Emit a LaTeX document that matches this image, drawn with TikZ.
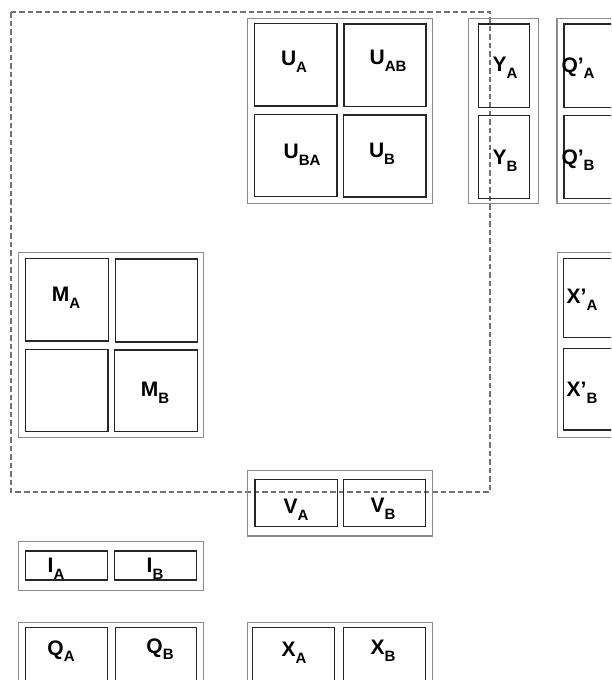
\documentclass[tikz,border=0pt]{standalone}
\usepackage{fontspec}
\setmainfont{Liberation Sans}
\begin{document}
\begin{tikzpicture}[x=1pt,y=-1pt,
  outerbox/.style={draw=black!45,line width=1.2pt},
  innerbox/.style={draw=black!85,line width=1.1pt},
  region/.style={draw=black!55,line width=2pt,dash pattern=on 5.5pt off 3pt},
  lab/.style={inner sep=0pt,font=\bfseries\fontsize{21}{21}\selectfont}]
\newcommand\lbl[2]{#1\raisebox{-6.5pt}{\fontsize{15}{15}\selectfont #2}}
\useasboundingbox (0,0) rectangle (611,680);
\clip (0,0) rectangle (611,680);
% dashed region
\draw[region] (10.5,12) rectangle (490,491.5);
% U group
\draw[outerbox] (247.5,18.5) rectangle (432.5,203.5);
\draw[innerbox] (254.5,23.5) rectangle (337,106);
\draw[innerbox] (344,24) rectangle (426,106.5);
\draw[innerbox] (254.5,114.5) rectangle (337,196.5);
\draw[innerbox] (343.5,115) rectangle (426,197);
\node[lab] (ua) at (294,62) {\lbl{U}{A}};
\node[lab] (uab) at (388,61) {\lbl{U}{AB}};
\node[lab] (uba) at (302,155) {\lbl{U}{BA}};
\node[lab] (ub) at (382,154) {\lbl{U}{B}};
% Y group
\draw[outerbox] (468.5,18.5) rectangle (538.5,203.5);
\draw[innerbox] (478.5,24) rectangle (529.5,107.5);
\draw[innerbox] (478.5,115.5) rectangle (529.5,198.5);
\node[lab] (ya) at (505,68) {\lbl{Y}{A}};
\node[lab] (yb) at (505,161) {\lbl{Y}{B}};
% Q' group
\draw[outerbox] (557,18.5) rectangle (640,203.5);
\draw[innerbox] (564,24) rectangle (630,107.5);
\draw[innerbox] (564,115.5) rectangle (630,198.5);
\node[lab] (qpa) at (578,68) {\lbl{Q’}{A}};
\node[lab] (qpb) at (578,160) {\lbl{Q’}{B}};
% M group
\draw[outerbox] (18.5,252.5) rectangle (203.5,437.5);
\draw[innerbox] (25.5,258.5) rectangle (108.5,341);
\draw[innerbox] (115.5,259) rectangle (197.5,342);
\draw[innerbox] (25.5,349.5) rectangle (108,431.5);
\draw[innerbox] (114.5,350) rectangle (197.5,431.5);
\node[lab] (ma) at (66,298) {\lbl{M}{A}};
\node[lab] (mb) at (155,393) {\lbl{M}{B}};
% X' group
\draw[outerbox] (557.5,252.5) rectangle (640,437.5);
\draw[innerbox] (563.5,258.5) rectangle (630,337.5);
\draw[innerbox] (563.5,348.5) rectangle (630,430);
\node[lab] (xpa) at (582,300) {\lbl{X’}{A}};
\node[lab] (xpb) at (582,393) {\lbl{X’}{B}};
% V group
\draw[outerbox] (247.5,470.5) rectangle (432.5,536);
\draw[innerbox] (255,479.5) rectangle (337.5,526.5);
\draw[innerbox] (343.5,479.5) rectangle (425.5,526.5);
\node[lab] (va) at (296,510) {\lbl{V}{A}};
\node[lab] (vb) at (383,509) {\lbl{V}{B}};
% I group
\draw[outerbox] (18.5,541.5) rectangle (203.5,590.5);
\draw[innerbox] (25.5,551) rectangle (107.5,580);
\draw[innerbox] (114.5,551) rectangle (196.5,580);
\node[lab] (ia) at (56,569) {\lbl{I}{A}};
\node[lab] (ib) at (155,569) {\lbl{I}{B}};
% Q group
\draw[outerbox] (18.5,622.5) rectangle (203.5,700);
\draw[innerbox] (25.5,627.5) rectangle (107.5,690);
\draw[innerbox] (115.5,627.5) rectangle (196.5,690);
\node[lab] (qa) at (61,651) {\lbl{Q}{A}};
\node[lab] (qb) at (160,649) {\lbl{Q}{B}};
% X group
\draw[outerbox] (247.5,622.5) rectangle (432.5,700);
\draw[innerbox] (252.5,627.5) rectangle (334.5,690);
\draw[innerbox] (343.5,627.5) rectangle (425.5,690);
\node[lab] (xa) at (294,653) {\lbl{X}{A}};
\node[lab] (xb) at (383,651) {\lbl{X}{B}};
\end{tikzpicture}
\end{document}
